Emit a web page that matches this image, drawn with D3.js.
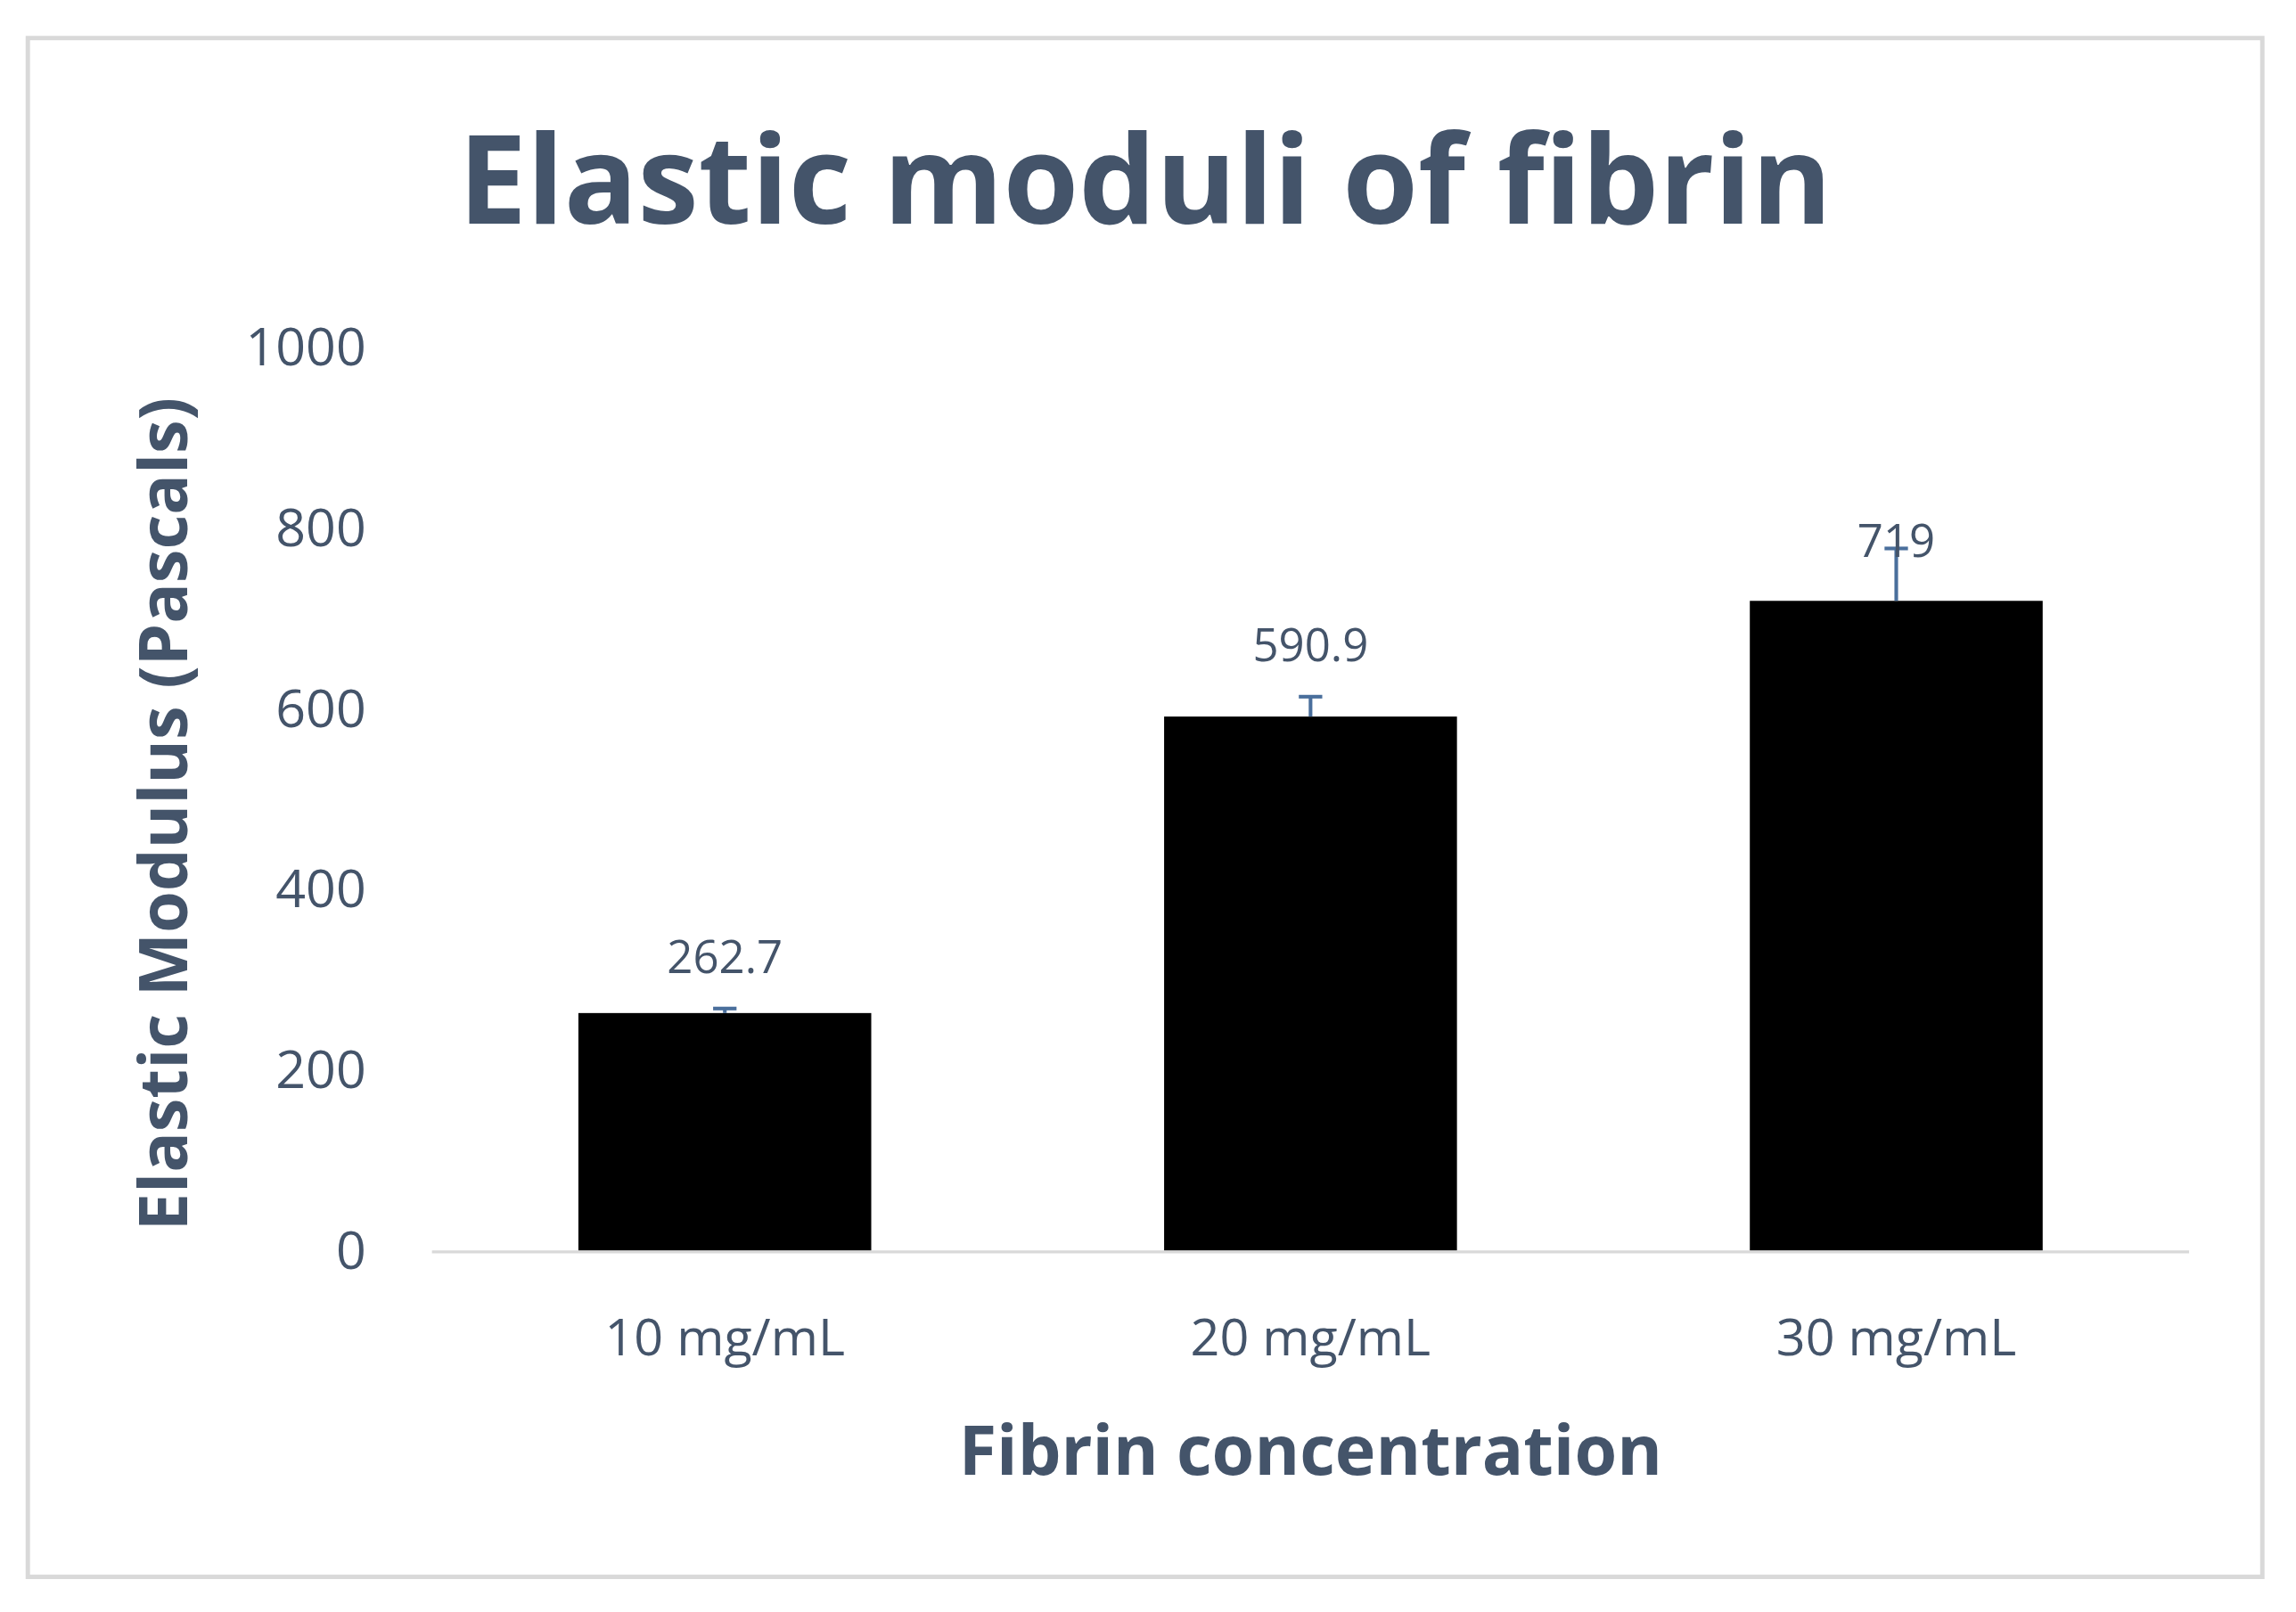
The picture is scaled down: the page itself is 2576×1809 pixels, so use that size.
<!DOCTYPE html>
<html><head><meta charset="utf-8">
<script src="https://cdn.jsdelivr.net/npm/d3@7"></script>
<style>body{margin:0;background:#fff}svg{display:block}</style>
</head><body>
<script>
const categories = ["10 mg/mL", "20 mg/mL", "30 mg/mL"];
const values = [262.7, 590.9, 719];
const errors = [5, 22, 58];
const labels = ["262.7", "590.9", "719"];
const yTicks = [0, 200, 400, 600, 800, 1000];

const W = 1568, H = 1101;
const svg = d3.select("body").append("svg")
  .attr("width", 2576).attr("height", 1809)
  .attr("viewBox", `0 0 ${W} ${H}`).attr("preserveAspectRatio", "none");
const txt = "#44546A", font = "'Open Sans', Lato, sans-serif";

svg.append("rect").attr("x", 0).attr("y", 0).attr("width", W).attr("height", H).attr("fill", "#fff");
svg.append("rect").attr("x", 19).attr("y", 26).attr("width", 1526).attr("height", 1051)
  .attr("fill", "none").attr("stroke", "#d9d9d9").attr("stroke-width", 3);

svg.append("text").attr("x", 782).attr("y", 153).attr("text-anchor", "middle")
  .attr("font-family", font).attr("font-weight", "bold").attr("font-size", 84)
  .attr("textLength", 938).attr("lengthAdjust", "spacingAndGlyphs")
  .attr("fill", txt).text("Elastic moduli of fibrin");

const x = d3.scaleBand().domain(categories).range([295, 1495]).paddingInner(0.5).paddingOuter(0.25);
const y = d3.scaleLinear().domain([0, 1000]).range([854, 237]);

svg.append("line").attr("x1", 295).attr("x2", 1495).attr("y1", y(0)+1).attr("y2", y(0)+1)
  .attr("stroke", "#d9d9d9").attr("stroke-width", 2);

svg.selectAll(".yt").data(yTicks).join("text")
  .attr("x", 250).attr("y", d => y(d)).attr("dy", "0.35em").attr("text-anchor", "end")
  .attr("font-family", font).attr("font-size", 36).attr("fill", txt).text(d => d);

svg.selectAll(".bar").data(values).join("rect")
  .attr("x", (d, i) => x(categories[i])).attr("width", x.bandwidth())
  .attr("y", d => y(d)).attr("height", d => y(0) - y(d)).attr("fill", "#000");

const eb = svg.append("g").attr("stroke", "#4a6f9c").attr("stroke-width", 2.5);
values.forEach((v, i) => {
  const cx = x(categories[i]) + x.bandwidth() / 2;
  eb.append("line").attr("x1", cx).attr("x2", cx).attr("y1", y(v)).attr("y2", y(v + errors[i]));
  eb.append("line").attr("x1", cx - 8).attr("x2", cx + 8).attr("y1", y(v + errors[i])).attr("y2", y(v + errors[i]));
});

svg.selectAll(".lbl").data(values).join("text")
  .attr("x", (d, i) => x(categories[i]) + x.bandwidth() / 2)
  .attr("y", (d, i) => i === 2 ? y(d) - 30 : y(d + errors[i]) - 24)
  .attr("text-anchor", "middle").attr("font-family", font).attr("font-size", 31)
  .attr("fill", txt).text((d, i) => labels[i]);

svg.selectAll(".xt").data(categories).join("text")
  .attr("x", d => x(d) + x.bandwidth() / 2).attr("y", 926).attr("text-anchor", "middle")
  .attr("font-family", font).attr("font-size", 35).attr("fill", txt).text(d => d);

svg.append("text").attr("x", 895).attr("y", 1007).attr("text-anchor", "middle")
  .attr("font-family", font).attr("font-weight", "bold").attr("font-size", 47)
  .attr("fill", txt).text("Fibrin concentration");

svg.append("text").attr("transform", "translate(128,556) rotate(-90)").attr("text-anchor", "middle")
  .attr("font-family", font).attr("font-weight", "bold").attr("font-size", 46)
  .attr("fill", txt).text("Elastic Modulus (Pascals)");
</script>
</body></html>
